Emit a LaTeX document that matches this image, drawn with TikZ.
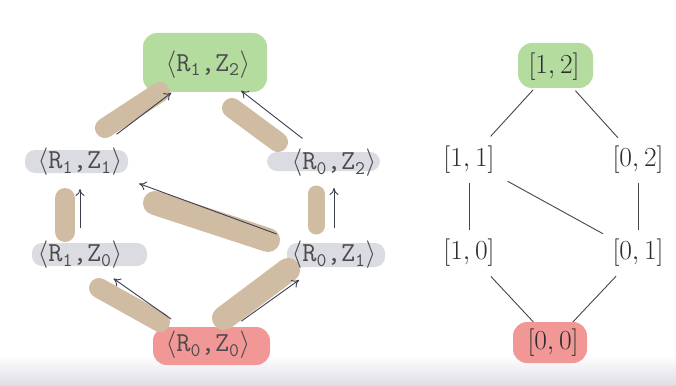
\RequirePackage{fix-cm}
\documentclass[tikz,border=0pt]{standalone}
\usetikzlibrary{arrows.meta}
\definecolor{hlgreen}{RGB}{180,220,158}
\definecolor{hlred}{RGB}{241,152,150}
\definecolor{hlgray}{RGB}{219,220,225}
\definecolor{tancol}{RGB}{208,188,162}
\definecolor{arrcol}{RGB}{60,62,80}
\definecolor{lncol}{RGB}{70,70,70}
\definecolor{txtcol}{RGB}{75,75,78}
\definecolor{txtdark}{RGB}{45,45,48}
\definecolor{barcol}{RGB}{222,223,228}
\newcommand{\pair}[2]{$\langle\mathtt{R}_{\mathtt{#1}}\mbox{\ttfamily,}\mathtt{Z}_{\mathtt{#2}}\rangle$}
\begin{document}
\begin{tikzpicture}[x=1pt,y=-1pt,
  mono/.style={inner sep=0pt, text=txtcol, font=\fontsize{27.5}{30}\selectfont},
  iv/.style={inner sep=0pt, text=txtdark, font=\fontsize{27.5}{30}\selectfont},
  arr/.style={draw=arrcol, line width=0.9pt, -{To[length=7pt,width=9pt]}},
  ln/.style={draw=lncol, line width=0.9pt},
  tanstroke/.style={draw=tancol, line width=20pt, line cap=round},
  blobg/.style={fill=hlgreen, rounded corners=14pt},
  blobr/.style={fill=hlred, rounded corners=14pt},
  blobk/.style={fill=hlgray, rounded corners=10pt},
]
\useasboundingbox (0,0) rectangle (676,385);
\fill[white] (0,0) rectangle (676,385);
\shade[top color=white, bottom color=barcol] (0,355) rectangle (676,385);

% highlight blobs
\path[blobg] (143,33) rectangle (267,92);
\path[blobr] (153,327) rectangle (270,365);
\path[blobk] (25,150) rectangle (128,173);
\path[blobk] (267,152) rectangle (380,171);
\path[blobk] (32,243) rectangle (147,266);
\path[blobk] (287,243) rectangle (385,267);
\path[blobg] (518,43) rectangle (593,88);
\path[blobr] (513,322) rectangle (587,363);

% marker strokes
\draw[tanstroke] (105,128) -- (160,92);
\draw[tanstroke] (232,108) -- (278,142);
\draw[tanstroke] (65,198) -- (65,232);
\draw[tanstroke, line width=17pt] (316,194) -- (316,226);
\draw[tanstroke, line width=24pt] (155,203) -- (268,240);
\draw[tanstroke] (99,288) -- (160,322);
\draw[tanstroke, line width=24pt] (224,318) -- (288,270);

% left lattice
\node[mono] (r1z2) at (208,65) {\pair{1}{2}};
\node[mono] (r1z1) at (80,162) {\pair{1}{1}};
\node[mono] (r0z2) at (334,163) {\pair{0}{2}};
\node[mono] (r1z0) at (80,255) {\pair{1}{0}};
\node[mono] (r0z1) at (334,255) {\pair{0}{1}};
\node[mono] (r0z0) at (208,345) {\pair{0}{0}};

\draw[arr, shorten <=46pt, shorten >=46pt] (r1z1.center) -- (r1z2.center);
\draw[arr, shorten <=40pt, shorten >=42pt] (r0z2.center) -- (r1z2.center);
\draw[arr, shorten <=27pt, shorten >=27pt] (r1z0.center) -- (r1z1.center);
\draw[arr, shorten <=27pt, shorten >=25pt] (r0z1.center) -- (r0z2.center);
\draw[arr, shorten <=61pt, shorten >=63pt] (r0z1.center) -- (r1z1.center);
\draw[arr, shorten <=45pt, shorten >=41pt] (r0z0.center) -- (r1z0.center);
\draw[arr, shorten <=41pt, shorten >=43pt] (r0z0.center) -- (r0z1.center);

% right lattice
\node[iv] (a12) at (554,67) {$[1,2]$};
\node[iv] (a11) at (469,160) {$[1,1]$};
\node[iv] (a02) at (638,160) {$[0,2]$};
\node[iv] (a10) at (469,253) {$[1,0]$};
\node[iv] (a01) at (638,253) {$[0,1]$};
\node[iv] (a00) at (553,343) {$[0,0]$};

\draw[ln, shorten <=31pt, shorten >=32pt] (a12.center) -- (a11.center);
\draw[ln, shorten <=32pt, shorten >=30pt] (a12.center) -- (a02.center);
\draw[ln, shorten <=23pt, shorten >=23pt] (a11.center) -- (a10.center);
\draw[ln, shorten <=23pt, shorten >=23pt] (a02.center) -- (a01.center);
\draw[ln, shorten <=44pt, shorten >=40pt] (a11.center) -- (a01.center);
\draw[ln, shorten <=32pt, shorten >=29pt] (a10.center) -- (a00.center);
\draw[ln, shorten <=32pt, shorten >=29pt] (a01.center) -- (a00.center);
\end{tikzpicture}
\end{document}
